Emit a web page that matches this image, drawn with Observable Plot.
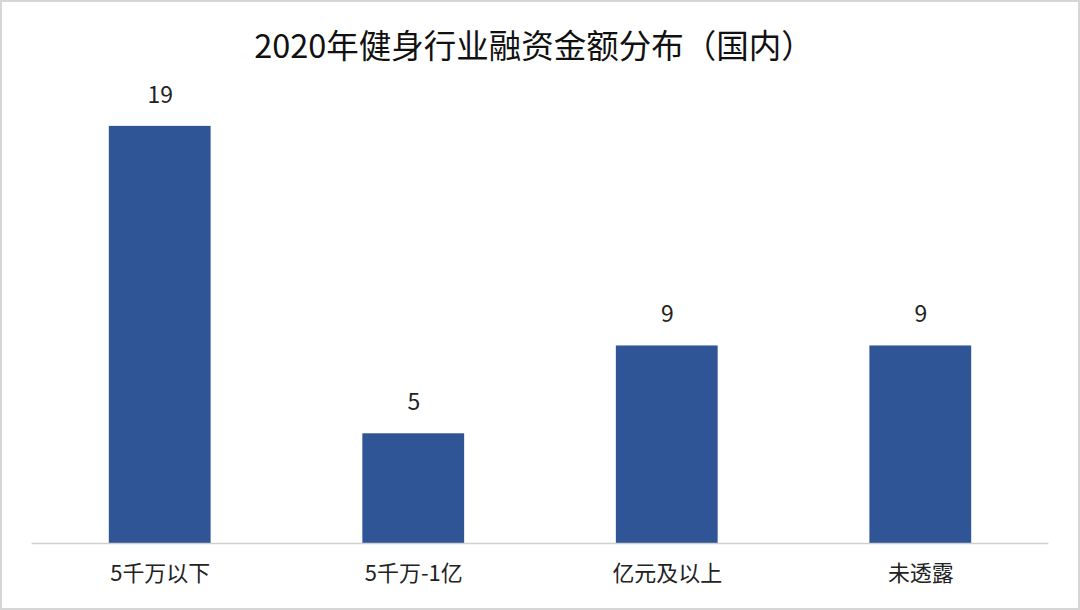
<!DOCTYPE html>
<html><head><meta charset="utf-8">
<script src="https://cdn.jsdelivr.net/npm/d3@7"></script>
<script src="https://cdn.jsdelivr.net/npm/@observablehq/plot@0.6"></script>
<style>
html,body{margin:0;padding:0;background:#fff;}
#frame{position:relative;width:1080px;height:610px;box-sizing:border-box;border:2px solid #d6d6d6;overflow:hidden;background:#fff;}
#title{position:absolute;left:0;top:0;width:1064px;height:86px;text-align:center;line-height:84px;font-family:"Noto Sans CJK SC","Noto Sans",sans-serif;font-size:32.5px;color:#111;}
#chart{position:absolute;left:-2px;top:56px;}
</style></head>
<body><div id="frame"><div id="title">2020年健身行业融资金额分布（国内）</div><div id="chart"></div></div>
<script>
const categories = ["5千万以下", "5千万-1亿", "亿元及以上", "未透露"];
const values = [19, 5, 9, 9];
const data = categories.map((c, i) => ({category: c, value: values[i]}));
const font = '"Noto Sans CJK SC","Noto Sans",sans-serif';
const chart = Plot.plot({
  width: 1080,
  height: 552,
  marginTop: 68,
  marginBottom: 66,
  marginLeft: 31.6,
  marginRight: 29.7,
  style: {fontFamily: font, background: "transparent"},
  x: {domain: categories, paddingInner: 0.6, paddingOuter: 0.3, label: null, axis: null},
  y: {domain: [0, 19], axis: null},
  marks: [
    Plot.barY(data, {x: "category", y: "value", fill: "#2F5597"}),
    Plot.ruleY([0], {stroke: "#d0d0d0", strokeWidth: 1.5}),
    Plot.text(data, {x: "category", y: "value", text: d => String(d.value), dy: -31, fontSize: 23, fill: "#222"}),
    Plot.text(data, {x: "category", y: 0, text: "category", dy: 30, fontSize: 22, fill: "#222"})
  ]
});
document.getElementById("chart").appendChild(chart);
</script></body></html>
